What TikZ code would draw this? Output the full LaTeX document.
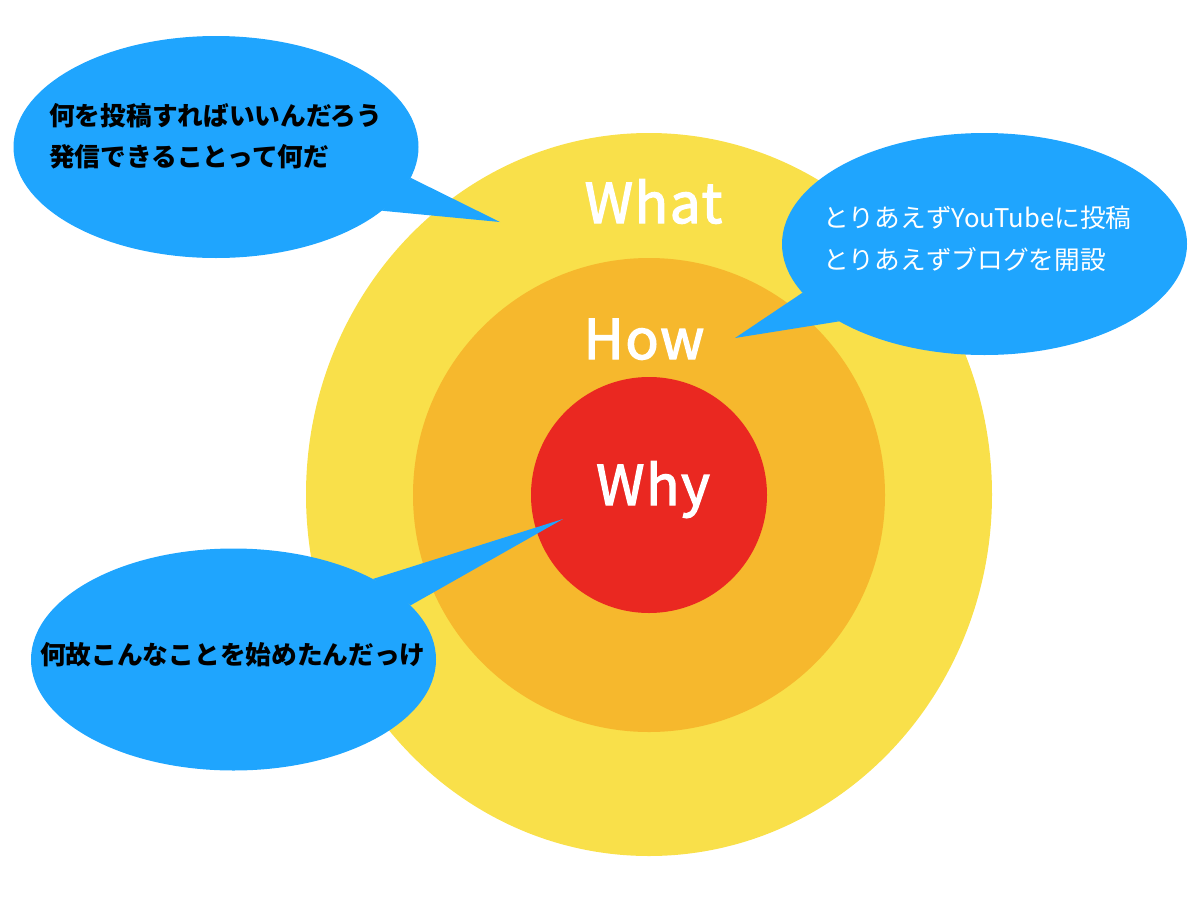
\documentclass[tikz,border=0pt]{standalone}
\usepackage{fontspec}
\setmainfont{Noto Sans CJK JP}
\newfontfamily\ringfont[FakeBold=2.4,LetterSpace=3]{Noto Sans CJK JP}
\usetikzlibrary{shapes.geometric}
\definecolor{ringwhat}{HTML}{F9E04A}
\definecolor{ringhow}{HTML}{F6B82D}
\definecolor{ringwhy}{HTML}{EA2821}
\definecolor{bubble}{HTML}{1FA5FE}
\begin{document}
\begin{tikzpicture}[x=1pt,y=-1pt]
        \tikzstyle{every node}+=[inner sep=0pt]
        \tikzstyle{ring}=[ellipse]
        \tikzstyle{word}=[text=white,anchor=base,font=\fontsize{55}{60}\ringfont]
        \tikzstyle{balloon}=[ellipse,fill=bubble,minimum width=405pt,minimum height=222pt]
        \tikzstyle{say}=[align=left,anchor=north west,font=\fontsize{25.7}{41.5}\selectfont]
        \useasboundingbox (0,0) rectangle (1200,900);
        \node [ring,fill=ringwhat,minimum width=686pt,minimum height=723pt] (what) at (649,494.5) {};
        \node [ring,fill=ringhow,minimum width=472pt,minimum height=474pt] (how) at (649,495) {};
        \node [ring,fill=ringwhy,minimum size=236pt] (why) at (649,495) {};
        \node [word] (whatlabel) at (653.5,223) {What};
        \node [word] (howlabel) at (644,359) {How};
        \node [word] (whylabel) at (653,505) {Why};
        \coordinate (tipwhat) at (500,222);
        \coordinate (tiphow) at (735,338);
        \coordinate (tipwhy) at (563,519);
        \node [balloon] (askwhat) at (216,147) {};
        \node [balloon] (askhow) at (984.5,244) {};
        \node [balloon] (askwhy) at (233.5,659.5) {};
        \fill [bubble] (askwhat.-9.9) -- (tipwhat) -- (askwhat.-21.9) -- cycle;
        \fill [bubble] (askhow.195) -- (tiphow) -- (askhow.208.4) -- cycle;
        \fill [bubble] (askwhy.30.7) -- (tipwhy) -- (askwhy.17.5) -- cycle;
        \node [say,font=\fontsize{25.7}{41.5}\selectfont\bfseries] (textwhat) at (49,103) {何を投稿すればいいんだろう\\発信できることって何だ};
        \node [say,text=white] (texthow) at (823,206) {とりあえずYouTubeに投稿\\とりあえずブログを開設};
        \node [say,font=\fontsize{25.7}{41.5}\selectfont\bfseries] (textwhy) at (40,642) {何故こんなことを始めたんだっけ};
\end{tikzpicture}
\end{document}
